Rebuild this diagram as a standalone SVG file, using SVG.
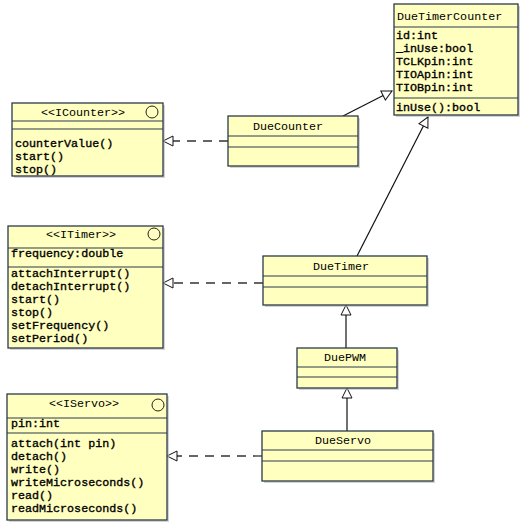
<svg xmlns="http://www.w3.org/2000/svg" width="529" height="530" viewBox="0 0 529 530">
<defs>
<style>
.box{fill:#ffffc0;stroke:#2b3a4a;stroke-width:1.3}
.sh{fill:#b8b8b8;opacity:0.6}
.div{stroke:#2b3a4a;stroke-width:1.2}
.t{font-family:"Liberation Mono","DejaVu Sans Mono",monospace;font-size:11.7px;fill:#000}
.m{stroke:#000;stroke-width:0.35}
.c{text-anchor:middle}
.ic{fill:none;stroke:#222;stroke-width:1}
.ln{stroke:#111;stroke-width:1.2;fill:none}
.dl{stroke:#333;stroke-width:1.3;fill:none;stroke-dasharray:9,7}
</style>
<marker id="tri" viewBox="0 0 12 12" refX="11" refY="6" markerWidth="12" markerHeight="12" markerUnits="userSpaceOnUse" orient="auto">
<path d="M11,6 L1,1 L1,11 Z" fill="#fff" stroke="#111" stroke-width="1"/>
</marker>
</defs>
<g id="connectors">
<line class="ln" x1="343" y1="116" x2="392" y2="91" marker-end="url(#tri)"/>
<line class="ln" x1="357" y1="256" x2="428" y2="117" marker-end="url(#tri)"/>
<line class="ln" x1="346" y1="348" x2="346" y2="305" marker-end="url(#tri)"/>
<line class="ln" x1="347" y1="431" x2="347" y2="388" marker-end="url(#tri)"/>
<line class="dl" x1="228" y1="141" x2="163" y2="141" marker-end="url(#tri)"/>
<line class="dl" x1="263" y1="283" x2="163" y2="283" marker-end="url(#tri)"/>
<line class="dl" x1="262" y1="456" x2="167" y2="456" marker-end="url(#tri)"/>
</g>
<g id="DueTimerCounter">
<rect class="sh" x="396" y="6" width="124" height="111"/>
<rect class="box" x="394" y="4" width="124" height="111"/>
<line class="div" x1="394" y1="27" x2="518" y2="27"/>
<line class="div" x1="394" y1="98" x2="518" y2="98"/>
<text class="t" x="397" y="20">DueTimerCounter</text>
<text class="t m" x="396" y="39">id:int</text>
<text class="t m" x="396" y="52">_inUse:bool</text>
<text class="t m" x="396" y="65">TCLKpin:int</text>
<text class="t m" x="396" y="78">TIOApin:int</text>
<text class="t m" x="396" y="91">TIOBpin:int</text>
<text class="t m" x="396" y="111">inUse():bool</text>
</g>
<g id="ICounter">
<rect class="sh" x="14" y="105" width="151" height="73"/>
<rect class="box" x="12" y="103" width="151" height="73"/>
<line class="div" x1="12" y1="121" x2="163" y2="121"/>
<line class="div" x1="12" y1="129" x2="163" y2="129"/>
<text class="t c" x="83" y="116">&lt;&lt;ICounter&gt;&gt;</text>
<circle class="ic" cx="152" cy="112" r="6"/>
<text class="t m" x="15" y="146.5">counterValue()</text>
<text class="t m" x="15" y="159.5">start()</text>
<text class="t m" x="15" y="172.5">stop()</text>
</g>
<g id="DueCounter">
<rect class="sh" x="230" y="118" width="130" height="50"/>
<rect class="box" x="228" y="116" width="130" height="50"/>
<line class="div" x1="228" y1="136" x2="358" y2="136"/>
<line class="div" x1="228" y1="147" x2="358" y2="147"/>
<text class="t c" x="288" y="130">DueCounter</text>
</g>
<g id="ITimer">
<rect class="sh" x="10" y="228" width="155" height="122"/>
<rect class="box" x="8" y="226" width="155" height="122"/>
<line class="div" x1="8" y1="248" x2="163" y2="248"/>
<line class="div" x1="8" y1="267" x2="163" y2="267"/>
<text class="t c" x="81" y="238">&lt;&lt;ITimer&gt;&gt;</text>
<circle class="ic" cx="154" cy="234" r="6"/>
<text class="t m" x="11" y="257">frequency:double</text>
<text class="t m" x="11" y="277">attachInterrupt()</text>
<text class="t m" x="11" y="290">detachInterrupt()</text>
<text class="t m" x="11" y="303">start()</text>
<text class="t m" x="11" y="316">stop()</text>
<text class="t m" x="11" y="329">setFrequency()</text>
<text class="t m" x="11" y="342">setPeriod()</text>
</g>
<g id="DueTimer">
<rect class="sh" x="265" y="258" width="164" height="49"/>
<rect class="box" x="263" y="256" width="164" height="49"/>
<line class="div" x1="263" y1="276" x2="427" y2="276"/>
<line class="div" x1="263" y1="287" x2="427" y2="287"/>
<text class="t c" x="341" y="270">DueTimer</text>
</g>
<g id="DuePWM">
<rect class="sh" x="299" y="350" width="100" height="40"/>
<rect class="box" x="297" y="348" width="100" height="40"/>
<line class="div" x1="297" y1="367" x2="397" y2="367"/>
<line class="div" x1="297" y1="377" x2="397" y2="377"/>
<text class="t c" x="345" y="361">DuePWM</text>
</g>
<g id="IServo">
<rect class="sh" x="9" y="396" width="160" height="126"/>
<rect class="box" x="7" y="394" width="160" height="126"/>
<line class="div" x1="7" y1="418" x2="167" y2="418"/>
<line class="div" x1="7" y1="433" x2="167" y2="433"/>
<text class="t c" x="84" y="407">&lt;&lt;IServo&gt;&gt;</text>
<circle class="ic" cx="158" cy="405" r="6"/>
<text class="t m" x="11" y="427">pin:int</text>
<text class="t m" x="11" y="447">attach(int pin)</text>
<text class="t m" x="11" y="460">detach()</text>
<text class="t m" x="11" y="473">write()</text>
<text class="t m" x="11" y="486">writeMicroseconds()</text>
<text class="t m" x="11" y="499">read()</text>
<text class="t m" x="11" y="512">readMicroseconds()</text>
</g>
<g id="DueServo">
<rect class="sh" x="264" y="433" width="171" height="50"/>
<rect class="box" x="262" y="431" width="171" height="50"/>
<line class="div" x1="262" y1="450" x2="433" y2="450"/>
<line class="div" x1="262" y1="461" x2="433" y2="461"/>
<text class="t c" x="343" y="444">DueServo</text>
</g>
</svg>
